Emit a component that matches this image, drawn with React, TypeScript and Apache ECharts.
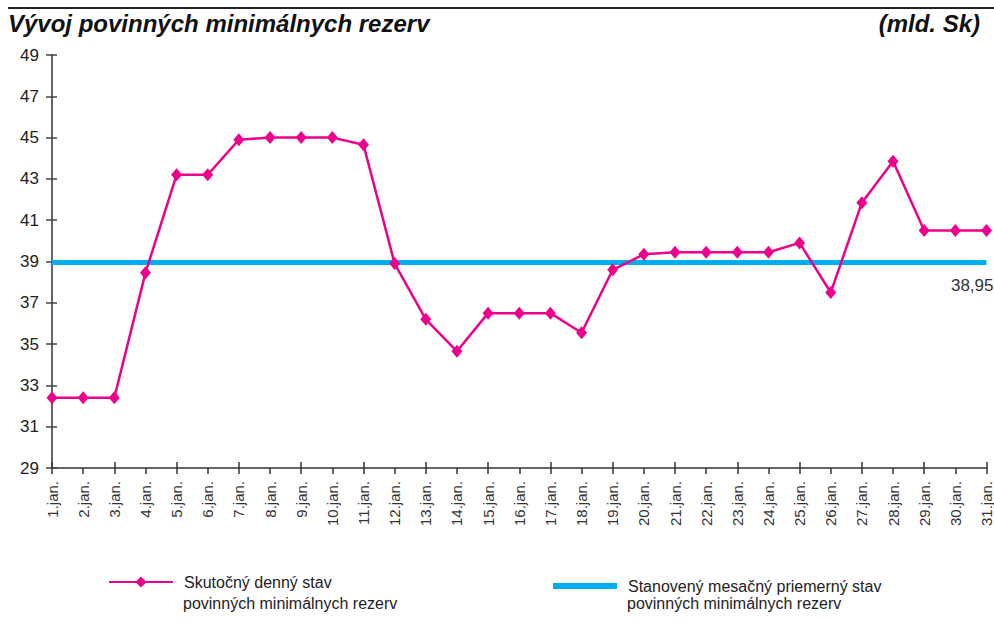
import React, { useEffect, useRef } from "react";
import * as echarts from "echarts";

const categories = [
  "1.jan.", "2.jan.", "3.jan.", "4.jan.", "5.jan.", "6.jan.", "7.jan.", "8.jan.",
  "9.jan.", "10.jan.", "11.jan.", "12.jan.", "13.jan.", "14.jan.", "15.jan.", "16.jan.",
  "17.jan.", "18.jan.", "19.jan.", "20.jan.", "21.jan.", "22.jan.", "23.jan.", "24.jan.",
  "25.jan.", "26.jan.", "27.jan.", "28.jan.", "29.jan.", "30.jan.", "31.jan.",
];

const actualValues = [
  32.4, 32.4, 32.4, 38.45, 43.2, 43.2, 44.9, 45.0, 45.0, 45.0, 44.65, 38.9, 36.2, 34.65, 36.5, 36.5,
  36.5, 35.55, 38.6, 39.35, 39.45, 39.45, 39.45, 39.45, 39.9, 37.5, 41.85, 43.85, 40.5, 40.5, 40.5,
];

const requiredValues = categories.map(() => 38.95);
const requiredLabel = "38,95";

const yTicks = [29, 31, 33, 35, 37, 39, 41, 43, 45, 47, 49];

const seriesActual = "Skutočný denný stav povinných minimálnych rezerv";
const seriesRequired = "Stanovený mesačný priemerný stav povinných minimálnych rezerv";
const legendLine1: Record<string, string> = {
  [seriesActual]: "Skutočný denný stav",
  [seriesRequired]: "Stanovený mesačný priemerný stav",
};
const legendLine2 = "povinných minimálnych rezerv";

const titleText = "Vývoj povinných minimálnych rezerv";
const unitText = "(mld. Sk)";

const FONT = "'Liberation Sans', Arial, Helvetica, sans-serif";

export default function App() {
  const ref = useRef<HTMLDivElement>(null);
  useEffect(() => {
    if (!ref.current) return;
    const chart = echarts.init(ref.current, undefined, { renderer: "svg" });
    const last = requiredValues.length - 1;
    const option: any = {
      animation: false,
      backgroundColor: "#ffffff",
      textStyle: { fontFamily: FONT },
      grid: { left: 52, right: 7, top: 55, bottom: 162, containLabel: false },
      xAxis: [
        {
          type: "category",
          data: categories,
          boundaryGap: false,
          axisLine: { show: true, lineStyle: { color: "#333", width: 1.5 } },
          axisTick: { show: true, alignWithLabel: true, length: 6, inside: false, lineStyle: { color: "#333", width: 1.5 } },
          axisLabel: { rotate: 90, fontSize: 15, color: "#333", margin: 13, fontFamily: FONT, interval: 0 },
          splitLine: { show: false },
        },
        {
          type: "category",
          data: categories,
          boundaryGap: false,
          position: "bottom",
          axisLine: { show: false },
          axisTick: { show: true, inside: true, length: 6, lineStyle: { color: "#333", width: 1.5 } },
          axisLabel: { show: false },
          splitLine: { show: false },
        },
      ],
      yAxis: [
        {
          type: "value",
          min: yTicks[0],
          max: yTicks[yTicks.length - 1],
          interval: 2,
          axisLine: { show: true, lineStyle: { color: "#666", width: 2 } },
          axisTick: { show: true, length: 6, lineStyle: { color: "#444", width: 1.5 } },
          axisLabel: { fontSize: 17, color: "#222", margin: 13, fontFamily: FONT },
          splitLine: { show: false },
        },
        {
          type: "value",
          min: yTicks[0],
          max: yTicks[yTicks.length - 1],
          interval: 2,
          position: "left",
          axisLine: { show: false },
          axisTick: { show: true, inside: true, length: 5, lineStyle: { color: "#444", width: 1.5 } },
          axisLabel: { show: false },
          splitLine: { show: false },
        },
      ],
      legend: [
        {
          data: [seriesActual],
          left: 108,
          top: 574,
          padding: 0,
          itemWidth: 64,
          itemHeight: 14,
          itemGap: 10,
          formatter: (n: string) => legendLine1[n],
          textStyle: { fontSize: 16, color: "#222", fontFamily: FONT, padding: [0, 0, 0, 6] },
        },
        {
          data: [{ name: seriesRequired, icon: "rect" }],
          left: 553,
          top: 578,
          padding: 0,
          itemWidth: 64,
          itemHeight: 6,
          itemGap: 10,
          formatter: (n: string) => legendLine1[n],
          textStyle: { fontSize: 16, color: "#222", fontFamily: FONT, padding: [0, 0, 0, 6] },
        },
      ],
      graphic: [
        {
          type: "line",
          shape: { x1: 8, y1: 8, x2: 994, y2: 8 },
          style: { stroke: "#222", lineWidth: 2 },
        },
        {
          type: "text",
          left: 8,
          top: 11,
          style: { text: titleText, font: `italic bold 24px ${FONT}`, fill: "#111" },
        },
        {
          type: "text",
          right: 14,
          top: 11,
          style: { text: unitText, font: `italic bold 24px ${FONT}`, fill: "#111" },
        },
        {
          type: "text",
          left: 183,
          top: 595,
          style: { text: legendLine2, font: `16px ${FONT}`, fill: "#222" },
        },
        {
          type: "text",
          left: 627,
          top: 595,
          style: { text: legendLine2, font: `16px ${FONT}`, fill: "#222" },
        },
      ],
      series: [
        {
          name: seriesRequired,
          type: "line",
          data: requiredValues.map((v, i) =>
            i === last
              ? {
                  value: v,
                  label: {
                    show: true,
                    position: "bottom",
                    distance: 14,
                    align: "right",
                    offset: [7, 0],
                    formatter: () => requiredLabel,
                    fontSize: 17,
                    color: "#333",
                    fontFamily: FONT,
                  },
                }
              : v
          ),
          showSymbol: true,
          symbol: "circle",
          symbolSize: 0,
          lineStyle: { color: "#00AEEF", width: 5 },
          itemStyle: { color: "#00AEEF" },
          z: 2,
        },
        {
          name: seriesActual,
          type: "line",
          data: actualValues,
          symbol: "diamond",
          symbolSize: [11, 13],
          lineStyle: { color: "#EC008C", width: 2.5 },
          itemStyle: { color: "#EC008C" },
          z: 3,
        },
      ],
    };
    chart.setOption(option);
    return () => chart.dispose();
  }, []);
  return <div ref={ref} style={{ width: 994, height: 630, position: "absolute", left: 0, top: 0 }} />;
}
